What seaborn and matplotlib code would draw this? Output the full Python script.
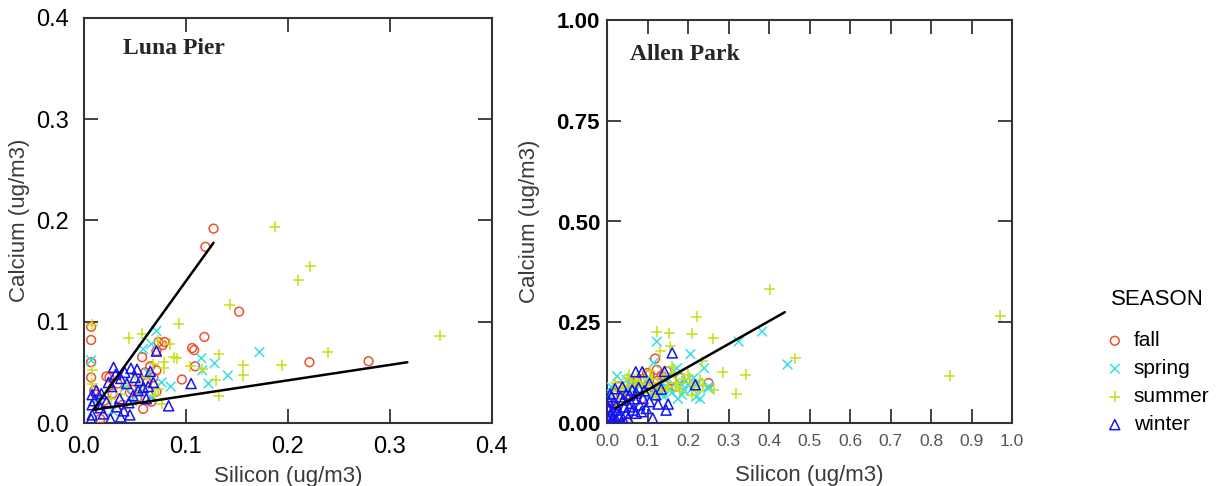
import numpy as np
import pandas as pd
import seaborn as sns
import matplotlib.pyplot as plt
from matplotlib.markers import MarkerStyle

seasons = ['fall', 'spring', 'summer', 'winter']
season_colors = ['#f0502d', '#34e0e6', '#c6e018', '#1414f0']
season_markers = ['o', 'x', '+', '^']
season_sizes = [40, 48, 64, 52]

# Luna Pier (silicon, calcium) ug/m3
lp_fall_si = [0.127, 0.119, 0.152, 0.221, 0.279, 0.118, 0.106, 0.108, 0.109, 0.096, 0.079, 0.077,
              0.071, 0.071, 0.057, 0.007, 0.007, 0.007, 0.007, 0.010, 0.025, 0.058, 0.071, 0.016,
              0.028, 0.066, 0.047, 0.033, 0.065, 0.073, 0.060, 0.045, 0.020, 0.068, 0.062, 0.038,
              0.012, 0.052, 0.024, 0.022]
lp_fall_ca = [0.192, 0.174, 0.110, 0.060, 0.061, 0.085, 0.074, 0.072, 0.056, 0.043, 0.080, 0.077,
              0.071, 0.052, 0.065, 0.095, 0.082, 0.060, 0.045, 0.032, 0.045, 0.014, 0.031, 0.004,
              0.029, 0.021, 0.033, 0.039, 0.056, 0.080, 0.050, 0.030, 0.022, 0.045, 0.040, 0.018,
              0.028, 0.025, 0.012, 0.046]
lp_spring_si = [0.172, 0.141, 0.128, 0.122, 0.115, 0.116, 0.085, 0.071, 0.066, 0.007, 0.058, 0.063,
                0.047, 0.028, 0.066, 0.014, 0.076, 0.040, 0.055]
lp_spring_ca = [0.070, 0.047, 0.059, 0.039, 0.064, 0.052, 0.036, 0.091, 0.078, 0.062, 0.073, 0.049,
                0.022, 0.012, 0.025, 0.024, 0.040, 0.035, 0.030]
lp_summer_si = [0.187, 0.222, 0.210, 0.143, 0.349, 0.239, 0.194, 0.156, 0.156, 0.132, 0.129, 0.132,
                0.116, 0.104, 0.093, 0.091, 0.088, 0.057, 0.044, 0.008, 0.008, 0.078, 0.078, 0.084,
                0.073, 0.056, 0.036, 0.073, 0.076, 0.026, 0.008, 0.068, 0.062, 0.050, 0.043, 0.070]
lp_summer_ca = [0.194, 0.155, 0.141, 0.117, 0.086, 0.070, 0.057, 0.057, 0.047, 0.068, 0.042, 0.027,
                0.053, 0.056, 0.098, 0.064, 0.065, 0.088, 0.084, 0.097, 0.052, 0.060, 0.054, 0.078,
                0.081, 0.036, 0.029, 0.034, 0.019, 0.024, 0.039, 0.058, 0.044, 0.048, 0.040, 0.028]
lp_winter_si = [0.083, 0.105, 0.071, 0.029, 0.046, 0.052, 0.065, 0.036, 0.050, 0.058, 0.063, 0.042,
                0.027, 0.017, 0.008, 0.008, 0.008, 0.007, 0.022, 0.032, 0.039, 0.045, 0.026, 0.019,
                0.035, 0.048, 0.061, 0.055, 0.031, 0.040, 0.012, 0.016, 0.044, 0.053, 0.024, 0.068,
                0.010, 0.036]
lp_winter_ca = [0.017, 0.039, 0.071, 0.055, 0.054, 0.053, 0.051, 0.044, 0.045, 0.035, 0.036, 0.039,
                0.036, 0.029, 0.028, 0.018, 0.008, 0.004, 0.021, 0.016, 0.012, 0.008, 0.004, 0.009,
                0.024, 0.027, 0.024, 0.042, 0.048, 0.050, 0.032, 0.015, 0.020, 0.032, 0.040, 0.040,
                0.022, 0.006]

# Allen Park (silicon, calcium) ug/m3
ap_fall_si = [0.251, 0.119, 0.123, 0.062, 0.074, 0.181, 0.029, 0.049, 0.002, 0.099, 0.148, 0.090,
              0.135, 0.110, 0.160, 0.045, 0.080, 0.012, 0.140, 0.105, 0.035, 0.085, 0.125, 0.170]
ap_fall_ca = [0.099, 0.160, 0.132, 0.099, 0.103, 0.112, 0.091, 0.003, 0.005, 0.124, 0.128, 0.110,
              0.118, 0.090, 0.105, 0.080, 0.085, 0.050, 0.095, 0.120, 0.070, 0.060, 0.105, 0.090]
ap_spring_si = [0.383, 0.325, 0.446, 0.206, 0.240, 0.251, 0.214, 0.123, 0.115, 0.173, 0.025, 0.049,
                0.220, 0.190, 0.160, 0.140, 0.180, 0.120, 0.200, 0.095, 0.070, 0.010, 0.150, 0.230,
                0.130, 0.165, 0.210, 0.005, 0.085, 0.175, 0.250, 0.105, 0.135, 0.155, 0.185, 0.060,
                0.040, 0.195, 0.145, 0.225]
ap_spring_ca = [0.227, 0.202, 0.145, 0.171, 0.136, 0.091, 0.112, 0.202, 0.149, 0.136, 0.116, 0.107,
                0.065, 0.080, 0.075, 0.065, 0.100, 0.080, 0.095, 0.105, 0.085, 0.090, 0.110, 0.060,
                0.100, 0.130, 0.085, 0.070, 0.095, 0.060, 0.086, 0.070, 0.075, 0.085, 0.070, 0.095,
                0.080, 0.105, 0.090, 0.100]
ap_summer_si = [0.402, 0.971, 0.846, 0.465, 0.343, 0.319, 0.286, 0.262, 0.221, 0.210, 0.154, 0.123,
                0.132, 0.156, 0.235, 0.263, 0.230, 0.210, 0.165, 0.238, 0.020, 0.040, 0.060, 0.080,
                0.100, 0.110, 0.130, 0.150, 0.170, 0.190, 0.060, 0.090, 0.120, 0.140, 0.180, 0.200,
                0.030, 0.075, 0.105, 0.160, 0.215, 0.015, 0.050, 0.035, 0.070, 0.095, 0.125, 0.145,
                0.175, 0.205, 0.055, 0.085, 0.115, 0.225]
ap_summer_ca = [0.332, 0.266, 0.117, 0.161, 0.120, 0.073, 0.126, 0.210, 0.264, 0.221, 0.223, 0.226,
                0.178, 0.190, 0.153, 0.083, 0.107, 0.070, 0.124, 0.094, 0.100, 0.090, 0.095, 0.100,
                0.095, 0.110, 0.085, 0.090, 0.100, 0.110, 0.070, 0.075, 0.065, 0.120, 0.080, 0.120,
                0.060, 0.115, 0.130, 0.140, 0.090, 0.080, 0.110, 0.085, 0.105, 0.115, 0.100, 0.080,
                0.090, 0.100, 0.120, 0.090, 0.075, 0.080]
ap_winter_si = [0.161, 0.142, 0.071, 0.087, 0.105, 0.134, 0.151, 0.126, 0.113, 0.146, 0.005, 0.011,
                0.023, 0.040, 0.056, 0.072, 0.089, 0.081, 0.064, 0.048, 0.031, 0.015, 0.002, 0.027,
                0.097, 0.105, 0.043, 0.060, 0.072, 0.007, 0.003, 0.023, 0.052, 0.218, 0.035, 0.010,
                0.018, 0.033, 0.047, 0.062, 0.078, 0.092, 0.004, 0.014, 0.028, 0.040, 0.055, 0.068,
                0.085, 0.008, 0.020, 0.038, 0.120, 0.012]
ap_winter_ca = [0.174, 0.128, 0.127, 0.127, 0.098, 0.084, 0.047, 0.047, 0.012, 0.032, 0.034, 0.065,
                0.045, 0.057, 0.069, 0.074, 0.061, 0.045, 0.032, 0.024, 0.016, 0.012, 0.008, 0.032,
                0.036, 0.053, 0.040, 0.049, 0.024, 0.020, 0.040, 0.008, 0.012, 0.095, 0.002, 0.003,
                0.050, 0.065, 0.072, 0.082, 0.088, 0.080, 0.055, 0.030, 0.020, 0.010, 0.040, 0.060,
                0.028, 0.072, 0.085, 0.090, 0.070, 0.000]

# fitted lines (end points)
lp_fit1_si = [0.009, 0.127]
lp_fit1_ca = [0.013, 0.178]
lp_fit2_si = [0.009, 0.317]
lp_fit2_ca = [0.013, 0.060]
ap_fit_si = [0.021, 0.439]
ap_fit_ca = [0.037, 0.275]

rows = []
site_data = {
    'Luna Pier': [(lp_fall_si, lp_fall_ca), (lp_spring_si, lp_spring_ca),
                  (lp_summer_si, lp_summer_ca), (lp_winter_si, lp_winter_ca)],
    'Allen Park': [(ap_fall_si, ap_fall_ca), (ap_spring_si, ap_spring_ca),
                   (ap_summer_si, ap_summer_ca), (ap_winter_si, ap_winter_ca)],
}
for site, groups in site_data.items():
    for season, (si, ca) in zip(seasons, groups):
        rows.append(pd.DataFrame({'site': site, 'season': season, 'si': si, 'ca': ca}))
df = pd.concat(rows, ignore_index=True)

sns.set_style('ticks')
plt.rcParams['font.family'] = ['Liberation Sans', 'DejaVu Sans']

fig = plt.figure(figsize=(12.25, 4.86), dpi=100)
ax1 = fig.add_axes([84 / 1225, 63 / 486, 408 / 1225, 405 / 486])
ax2 = fig.add_axes([607 / 1225, 63 / 486, 405 / 1225, 403 / 486])

for ax, site in [(ax1, 'Luna Pier'), (ax2, 'Allen Park')]:
    sub = df[df['site'] == site]
    for season, c, m, s in zip(seasons, season_colors, season_markers, season_sizes):
        d = sub[sub['season'] == season]
        sns.scatterplot(data=d, x='si', y='ca', ax=ax, color=c,
                        marker=MarkerStyle(m, fillstyle='none'), s=s, linewidth=1.1,
                        legend=False, label=season, zorder=3)

sns.lineplot(x=lp_fit1_si, y=lp_fit1_ca, ax=ax1, color='black', lw=1.8, zorder=4)
sns.lineplot(x=lp_fit2_si, y=lp_fit2_ca, ax=ax1, color='black', lw=1.8, zorder=4)
sns.lineplot(x=ap_fit_si, y=ap_fit_ca, ax=ax2, color='black', lw=1.8, zorder=4)

# grab handles for the shared legend, then drop per-axes legends
handles, labels = ax2.get_legend_handles_labels()
handles, labels = handles[:4], labels[:4]
for ax in (ax1, ax2):
    if ax.get_legend() is not None:
        ax.get_legend().remove()

lab_color = '#3a3a3a'
for ax in (ax1, ax2):
    for sp in ax.spines.values():
        sp.set_visible(True)
        sp.set_color('#333333')
        sp.set_linewidth(1.5)
    ax.tick_params(direction='in', length=10, width=1.3, top=True, right=True,
                   colors='#333333', labelcolor='black')
    ax.set_xlabel('Silicon (ug/m3)', fontsize=16, color=lab_color)
    ax.set_ylabel('Calcium (ug/m3)', fontsize=16, color=lab_color)

# left panel
ax1.set_xlim(0, 0.4)
ax1.set_ylim(0, 0.4)
lp_ticks = [0.0, 0.1, 0.2, 0.3, 0.4]
ax1.set_xticks(lp_ticks, [f'{t:.1f}' for t in lp_ticks])
ax1.set_yticks(lp_ticks, [f'{t:.1f}' for t in lp_ticks])
ax1.tick_params(axis='x', labelsize=17, pad=9)
ax1.tick_params(axis='y', labelsize=17, pad=11)
ax1.xaxis.set_label_coords(0.5, -0.105)
ax1.yaxis.set_label_coords(-0.132, 0.5)
ax1.text(0.096, 0.911, 'Luna Pier', transform=ax1.transAxes, fontsize=17,
         fontweight='bold', family='Liberation Serif', va='baseline')

# right panel
ax2.set_xlim(0, 1.0)
ax2.set_ylim(0, 1.0)
ap_xticks = [0.0, 0.1, 0.2, 0.3, 0.4, 0.5, 0.6, 0.7, 0.8, 0.9, 1.0]
ap_yticks = [0.0, 0.25, 0.5, 0.75, 1.0]
ax2.set_xticks(ap_xticks, [f'{t:.1f}' for t in ap_xticks])
ax2.set_yticks(ap_yticks, [f'{t:.2f}' for t in ap_yticks])
ax2.tick_params(axis='x', labelsize=12.5, pad=8, labelcolor='#555555')
ax2.tick_params(axis='y', labelsize=16, pad=5)
for lbl in ax2.get_yticklabels():
    lbl.set_fontweight('bold')
ax2.xaxis.set_label_coords(0.5, -0.105)
ax2.yaxis.set_label_coords(-0.165, 0.5)
ax2.text(0.057, 0.90, 'Allen Park', transform=ax2.transAxes, fontsize=17,
         fontweight='bold', family='Liberation Serif', va='baseline')

leg = fig.legend(handles, labels, title='SEASON', loc='upper left',
                 bbox_to_anchor=(1095 / 1225, 1 - 279 / 486), frameon=False,
                 fontsize=15, title_fontsize=16, handlelength=0.9, handletextpad=0.45,
                 labelspacing=0.43, borderpad=0, labelcolor='black')
leg.get_title().set_color('black')
leg._legend_box.sep = 15

fig.savefig('out.png', dpi=100)
